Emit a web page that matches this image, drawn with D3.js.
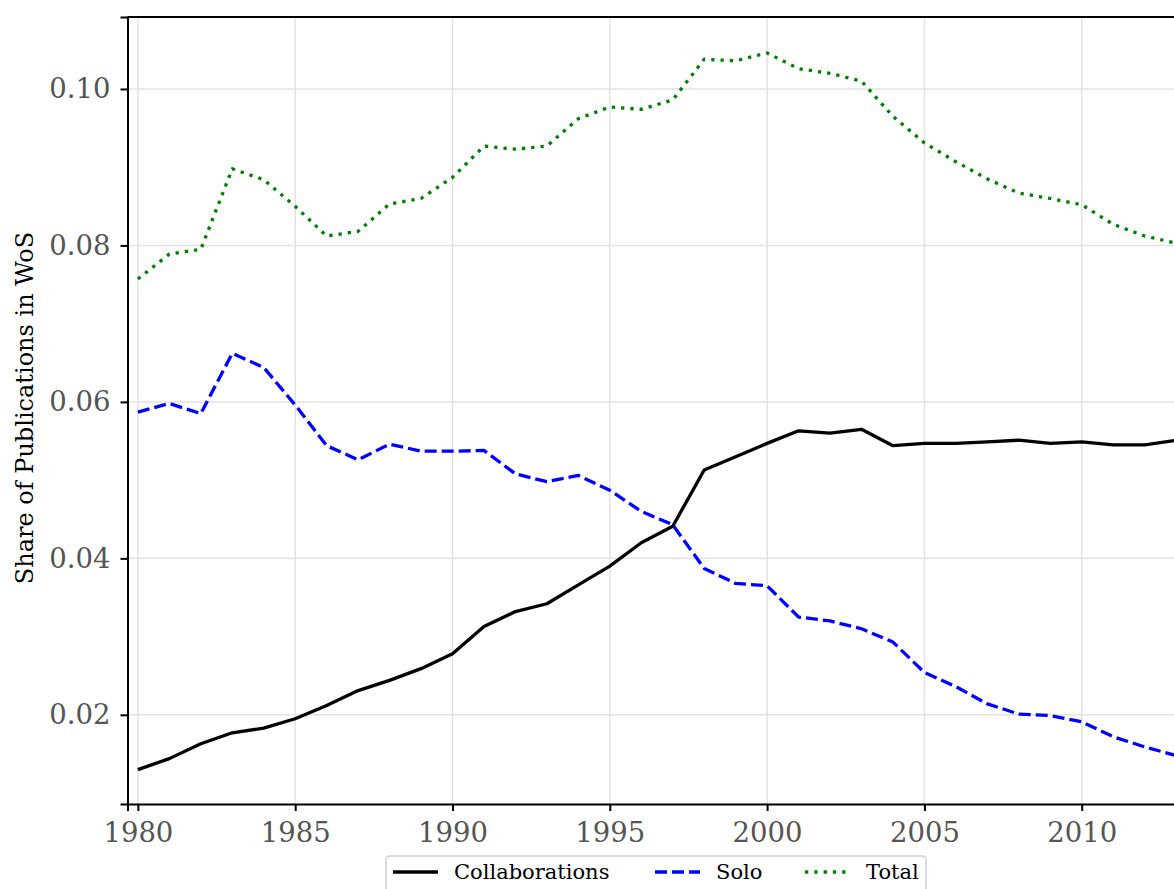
<!DOCTYPE html>
<html>
<head>
<meta charset="utf-8">
<script src="https://cdn.jsdelivr.net/npm/d3@7"></script>
<style>
  body { margin: 0; background: #fff; }
  svg { display: block; font-family: "DejaVu Serif", serif; }
</style>
</head>
<body>
<div id="viz"></div>
<script>
// ========================================
// Data
// ========================================
var years = d3.range(1980, 2014);

var collaborations = [0.0130, 0.0144, 0.0163, 0.0177, 0.0183, 0.0195, 0.0212, 0.0231, 0.0244, 0.0259,
                      0.0278, 0.0313, 0.0332, 0.0342, 0.0366, 0.0390, 0.0420, 0.0441, 0.0513, 0.0530,
                      0.0547, 0.0563, 0.0560, 0.0565, 0.0544, 0.0547, 0.0547, 0.0549, 0.0551, 0.0547,
                      0.0549, 0.0545, 0.0545, 0.0551];

var solo = [0.0587, 0.0598, 0.0585, 0.0662, 0.0644, 0.0596, 0.0544, 0.0526, 0.0546, 0.0537,
            0.0537, 0.0538, 0.0508, 0.0498, 0.0506, 0.0487, 0.0460, 0.0443, 0.0387, 0.0368,
            0.0365, 0.0325, 0.0320, 0.0310, 0.0293, 0.0254, 0.0236, 0.0214, 0.0201, 0.0199,
            0.0191, 0.0172, 0.0159, 0.0148];

var total = [0.0757, 0.0789, 0.0795, 0.0898, 0.0884, 0.0850, 0.0812, 0.0818, 0.0853, 0.0860,
             0.0887, 0.0927, 0.0923, 0.0927, 0.0962, 0.0977, 0.0974, 0.0986, 0.1038, 0.1036,
             0.1046, 0.1026, 0.1020, 0.1010, 0.0965, 0.0931, 0.0907, 0.0885, 0.0867, 0.0860,
             0.0852, 0.0827, 0.0812, 0.0803];

var x_ticks = [1980, 1985, 1990, 1995, 2000, 2005, 2010];
var y_ticks = [0.02, 0.04, 0.06, 0.08, 0.10];

var series_names = ['Collaborations', 'Solo', 'Total'];
var series_values = [collaborations, solo, total];
var series_colors = ['#000000', '#0000ff', '#008000'];
var series_dashes = [null, '12,5', '3.3,6'];

// ========================================
// SVG setup
// ========================================
var width = 1174, height = 889;
var plot = {left: 127.5, right: 1195, top: 17, bottom: 804};

var svg = d3.select('#viz')
   .append('svg')
   .attr('width', width)
   .attr('height', height);

var x = d3.scaleLinear().domain([1979.67, 2013.6]).range([plot.left, plot.right]);
var y = d3.scaleLinear().domain([0.0086, 0.1092]).range([plot.bottom, plot.top]);

svg.append('clipPath').attr('id', 'plot-clip')
   .append('rect')
   .attr('x', plot.left).attr('y', plot.top)
   .attr('width', plot.right - plot.left).attr('height', plot.bottom - plot.top);

// Grid lines
var grid = svg.append('g').attr('class', 'grid');
grid.selectAll('.vgrid')
   .data(x_ticks)
   .enter().append('line')
   .attr('x1', d => x(d)).attr('x2', d => x(d))
   .attr('y1', plot.top).attr('y2', plot.bottom)
   .style('stroke', '#e3e3e3').style('stroke-width', 1.5);
grid.selectAll('.hgrid')
   .data(y_ticks)
   .enter().append('line')
   .attr('x1', plot.left).attr('x2', plot.right)
   .attr('y1', d => y(d)).attr('y2', d => y(d))
   .style('stroke', '#e3e3e3').style('stroke-width', 1.5);

// Lines
var line = d3.line()
   .x((d, i) => x(years[i]))
   .y(d => y(d));

svg.append('g')
   .attr('clip-path', 'url(#plot-clip)')
   .selectAll('path')
   .data(series_values)
   .enter().append('path')
   .attr('d', line)
   .style('fill', 'none')
   .style('stroke', (d, i) => series_colors[i])
   .style('stroke-width', 3.3)
   .style('stroke-linejoin', 'round')
   .style('stroke-dasharray', (d, i) => series_dashes[i]);

// Axes
var x_axis = svg.append('g')
   .attr('transform', `translate(0, ${plot.bottom})`)
   .call(d3.axisBottom(x).tickValues(x_ticks).tickFormat(d3.format('d')).tickSize(7).tickPadding(11));

var y_axis = svg.append('g')
   .attr('transform', `translate(${plot.left}, 0)`)
   .call(d3.axisLeft(y).tickValues(y_ticks).tickFormat(d3.format('.2f')).tickSize(7).tickPadding(10));

[x_axis, y_axis].forEach(a => {
   a.select('.domain').style('stroke', '#000').style('stroke-width', 2);
   a.selectAll('.tick line').style('stroke', '#000').style('stroke-width', 2);
   a.selectAll('.tick text')
      .style('font-family', '"DejaVu Serif", serif')
      .style('font-size', '27.5px')
      .style('fill', '#555');
});

// top spine
svg.append('line')
   .attr('x1', plot.left).attr('x2', plot.right)
   .attr('y1', plot.top).attr('y2', plot.top)
   .style('stroke', '#000').style('stroke-width', 2);

// Y label
svg.append('text')
   .attr('transform', `translate(33, 408) rotate(-90)`)
   .attr('text-anchor', 'middle')
   .style('font-size', '24px')
   .style('fill', '#000')
   .text('Share of Publications in WoS');

// ========================================
// Legend
// ========================================
var legend = svg.append('g').attr('transform', 'translate(386, 856)');
legend.append('rect')
   .attr('width', 540).attr('height', 50)
   .attr('rx', 4)
   .style('fill', 'rgba(255,255,255,0.8)')
   .style('stroke', '#d0d0d0')
   .style('stroke-width', 1.5);

var legend_x = [7, 269, 419];
var items = legend.selectAll('.item')
   .data(series_names)
   .enter().append('g')
   .attr('transform', (d, i) => `translate(${legend_x[i]}, 16)`);

items.append('line')
   .attr('x1', 0).attr('x2', 45)
   .attr('y1', 0).attr('y2', 0)
   .style('stroke', (d, i) => series_colors[i])
   .style('stroke-width', 3.3)
   .style('stroke-dasharray', (d, i) => series_dashes[i]);

items.append('text')
   .attr('x', 61)
   .attr('y', 0)
   .attr('dy', '0.35em')
   .style('font-size', '21px')
   .style('fill', '#000')
   .text(d => d);
</script>
</body>
</html>
